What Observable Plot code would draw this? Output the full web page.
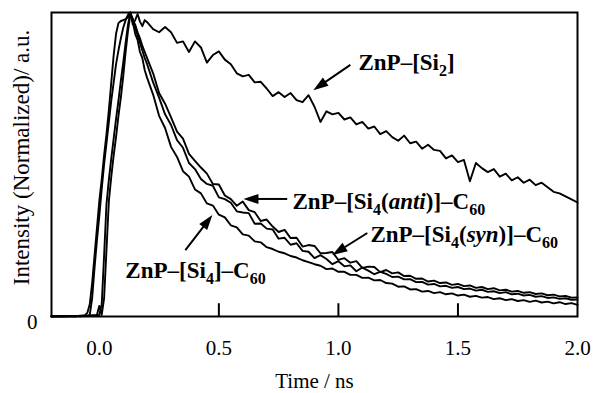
<!DOCTYPE html>
<html>
<head>
<meta charset="utf-8">
<script src="https://cdn.jsdelivr.net/npm/d3@7"></script>
<script src="https://cdn.jsdelivr.net/npm/@observablehq/plot@0.6"></script>
<style>
  html, body { margin: 0; padding: 0; background: #fff; }
  #chart { width: 596px; height: 393px; }
</style>
</head>
<body>
<div id="chart"></div>
<script>
// Sampling grid (ns): coarse baseline, fine rise, then 0.025 ns steps
const times = [-0.2, -0.15, -0.1, -0.08, -0.06,
  ...d3.range(25).map(i => +(-0.05 + i * 0.01).toFixed(2)),
  ...d3.range(73).map(i => +(0.2 + i * 0.025).toFixed(3))];

const seriesNames = ["ZnP–[Si2]", "ZnP–[Si4(anti)]–C60", "ZnP–[Si4(syn)]–C60", "ZnP–[Si4]–C60"];

// ZnP–[Si2]
const si2 = [
  0, 0.002, 0.001, 0.003, 0.004,
  0.012, 0.04, 0.11, 0.2, 0.29, 0.38, 0.45, 0.53, 0.6, 0.68,
  0.77, 0.86, 0.93, 0.965, 0.972, 0.975, 0.978, 0.985, 1.0, 0.96,
  0.975, 0.995, 0.97, 0.955, 0.975,
  0.968, 0.945, 0.935, 0.952, 0.935, 0.90, 0.905, 0.87, 0.905, 0.885,
  0.835, 0.86, 0.872, 0.845, 0.83, 0.80, 0.79, 0.795, 0.77, 0.772,
  0.75, 0.725, 0.738, 0.722, 0.735, 0.712, 0.705, 0.728, 0.69, 0.64,
  0.675, 0.665, 0.67, 0.648, 0.655, 0.632, 0.64, 0.618, 0.625, 0.60,
  0.61, 0.59, 0.578, 0.595, 0.57, 0.575, 0.552, 0.565, 0.548, 0.545,
  0.52, 0.53, 0.508, 0.515, 0.445, 0.505, 0.488, 0.475, 0.485, 0.46,
  0.47, 0.448, 0.458, 0.44, 0.45, 0.432, 0.44, 0.425, 0.41, 0.405,
  0.395, 0.385, 0.375];

// ZnP–[Si4(anti)]–C60
const si4anti = [
  0, 0.001, 0.002, 0.001, 0.002,
  0.002, 0.005, 0.06, 0.16, 0.25, 0.33, 0.42, 0.5, 0.57, 0.64,
  0.71, 0.77, 0.83, 0.875, 0.915, 0.95, 0.975, 0.993, 1.0, 0.975,
  0.96, 0.935, 0.915, 0.89, 0.87,
  0.85, 0.80, 0.735, 0.70, 0.655, 0.608, 0.585, 0.535, 0.512, 0.49,
  0.470, 0.436, 0.434, 0.398, 0.386, 0.364, 0.378, 0.350, 0.343, 0.314,
  0.319, 0.296, 0.278, 0.285, 0.258, 0.259, 0.230, 0.235, 0.232, 0.208,
  0.209, 0.212, 0.186, 0.192, 0.177, 0.182, 0.160, 0.164, 0.163, 0.146,
  0.153, 0.142, 0.145, 0.133, 0.134, 0.124, 0.125, 0.115, 0.118, 0.11,
  0.112, 0.104, 0.107, 0.1, 0.102, 0.094, 0.097, 0.09, 0.093, 0.086,
  0.088, 0.082, 0.084, 0.078, 0.08, 0.074, 0.076, 0.07, 0.072, 0.066,
  0.068, 0.062, 0.063];

// ZnP–[Si4(syn)]–C60
const si4syn = [
  0.002, 0.001, 0, 0.002, 0.001,
  0.003, 0.002, 0.004, 0.003, 0.005, 0.035, 0.005, 0.06, 0.22, 0.38,
  0.46, 0.53, 0.59, 0.66, 0.72, 0.79, 0.87, 0.94, 0.995, 0.98,
  0.95, 0.925, 0.9, 0.875, 0.85,
  0.83, 0.77, 0.72, 0.665, 0.63, 0.58, 0.555, 0.505, 0.485, 0.452,
  0.436, 0.43, 0.392, 0.386, 0.374, 0.346, 0.342, 0.34, 0.305, 0.306,
  0.289, 0.286, 0.256, 0.259, 0.236, 0.241, 0.216, 0.213, 0.192, 0.202,
  0.189, 0.172, 0.182, 0.165, 0.168, 0.149, 0.161, 0.151, 0.139, 0.147,
  0.14, 0.13, 0.131, 0.122, 0.123, 0.113, 0.114, 0.105, 0.107, 0.099,
  0.101, 0.094, 0.097, 0.09, 0.092, 0.085, 0.088, 0.081, 0.083, 0.077,
  0.08, 0.073, 0.075, 0.069, 0.071, 0.065, 0.067, 0.061, 0.063, 0.058,
  0.06, 0.055, 0.056];

// ZnP–[Si4]–C60
const si4 = [
  0.001, 0, 0.002, 0.001, 0.002,
  0.002, 0.003, 0.002, 0.004, 0.003, 0.005, 0.04, 0.2, 0.37, 0.45,
  0.52, 0.585, 0.65, 0.71, 0.775, 0.835, 0.9, 0.96, 1.0, 0.97,
  0.93, 0.91, 0.87, 0.85, 0.81,
  0.785, 0.73, 0.66, 0.62, 0.558, 0.525, 0.478, 0.46, 0.418, 0.405,
  0.372, 0.365, 0.335, 0.326, 0.30, 0.293, 0.27, 0.266, 0.247, 0.244,
  0.228, 0.222, 0.213, 0.208, 0.199, 0.194, 0.185, 0.179, 0.172, 0.167,
  0.156, 0.158, 0.147, 0.147, 0.137, 0.137, 0.127, 0.128, 0.119, 0.12,
  0.11, 0.108, 0.098, 0.099, 0.089, 0.09, 0.082, 0.084, 0.077, 0.08,
  0.073, 0.076, 0.069, 0.072, 0.065, 0.068, 0.062, 0.064, 0.057, 0.06,
  0.054, 0.057, 0.051, 0.054, 0.048, 0.052, 0.046, 0.049, 0.043, 0.047,
  0.041, 0.044, 0.038];

const xTicks = [0, 0.5, 1.0, 1.5, 2.0];
const innerTicks = [0.5, 1.0, 1.5];

// annotation labels (anchor in data units: time, intensity)
const labelTexts = [
  [["ZnP–[Si"], ["2", "sub"], ["]"]],
  [["ZnP–[Si"], ["4", "sub"], ["("], ["anti", "it"], [")]–C"], ["60", "sub"]],
  [["ZnP–[Si"], ["4", "sub"], ["("], ["syn", "it"], [")]–C"], ["60", "sub"]],
  [["ZnP–[Si"], ["4", "sub"], ["]–C"], ["60", "sub"]]
];
const labelT = [1.086, 0.81, 1.136, 0.111];
const labelV = [0.809, 0.352, 0.243, 0.125];
// arrows: from (t1,v1) to tip (t2,v2)
const arrowT1 = [1.052, 0.788, 1.123, 0.362];
const arrowV1 = [0.826, 0.385, 0.273, 0.217];
const arrowT2 = [0.897, 0.605, 0.977, 0.475];
const arrowV2 = [0.743, 0.385, 0.201, 0.332];

const allSeries = [si2, si4anti, si4syn, si4];
const rows = [];
allSeries.forEach((arr, k) => {
  if (arr.length !== times.length) console.error("length mismatch", k, arr.length, times.length);
  arr.forEach((v, i) => rows.push({t: times[i], v, s: seriesNames[k]}));
});

const font = "'Liberation Serif', 'Times New Roman', serif";

const plot = Plot.plot({
  width: 596,
  height: 393,
  marginLeft: 51,
  marginRight: 19,
  marginTop: 12,
  marginBottom: 77,
  style: {fontFamily: font, fontSize: "21px", color: "black", background: "white"},
  x: {domain: [-0.2, 2.0]},
  y: {domain: [0, 1]},
  marks: [
    Plot.line(rows, {x: "t", y: "v", z: "s", stroke: "black", strokeWidth: 1.9, strokeLinejoin: "round"}),
    Plot.ruleX(innerTicks, {y1: 0, y2: 0.042, stroke: "black", strokeWidth: 2}),
    Plot.frame({stroke: "black", strokeWidth: 2}),
    Plot.axisX({ticks: xTicks, tickFormat: d3.format(".1f"), tickSize: 0, tickPadding: 24, label: null, fontSize: 21}),
    Plot.axisY({ticks: [0], tickFormat: d => "0", tickSize: 0, tickPadding: 14, label: null, dy: 6, fontSize: 21}),
    Plot.text(["Time / ns"], {frameAnchor: "bottom", lineAnchor: "middle", textAnchor: "middle", dy: 65, fontSize: 21, text: d => d}),
    Plot.text(["Intensity (Normalized)/ a.u."], {frameAnchor: "left", textAnchor: "middle", lineAnchor: "middle", dx: -30, dy: -7, rotate: -90, fontSize: 23, text: d => d})
  ]
});

const sx = plot.scale("x"), sy = plot.scale("y");
const svg = d3.select(plot);
const g = svg.append("g").attr("font-family", font).attr("font-weight", "bold")
  .attr("font-size", 23).attr("text-anchor", "start");

labelTexts.forEach((parts, k) => {
  const text = g.append("text").attr("x", sx.apply(labelT[k])).attr("y", sy.apply(labelV[k]))
    .attr("fill", "black").attr("text-anchor", "start");
  let shifted = false;
  parts.forEach(([str, kind]) => {
    const ts = text.append("tspan").text(str);
    if (kind === "sub") {
      ts.attr("font-size", 16).attr("dy", shifted ? 0 : 6);
      shifted = true;
    } else {
      if (shifted) ts.attr("dy", -6);
      shifted = false;
      if (kind === "it") ts.attr("font-style", "italic");
    }
  });
});

arrowT1.forEach((_, k) => {
  const x1 = sx.apply(arrowT1[k]), y1 = sy.apply(arrowV1[k]);
  const x2 = sx.apply(arrowT2[k]), y2 = sy.apply(arrowV2[k]);
  const dx = x2 - x1, dy = y2 - y1, len = Math.hypot(dx, dy);
  const ux = dx / len, uy = dy / len, px = -uy, py = ux;
  const L = 15, W = 5;
  const bx = x2 - ux * L, by = y2 - uy * L;
  g.append("line").attr("x1", x1).attr("y1", y1).attr("x2", bx + ux * 2).attr("y2", by + uy * 2)
    .attr("stroke", "black").attr("stroke-width", 2);
  g.append("polygon")
    .attr("points", `${x2},${y2} ${bx + px * W},${by + py * W} ${bx - px * W},${by - py * W}`)
    .attr("fill", "black");
});

document.getElementById("chart").appendChild(plot);
</script>
</body>
</html>
